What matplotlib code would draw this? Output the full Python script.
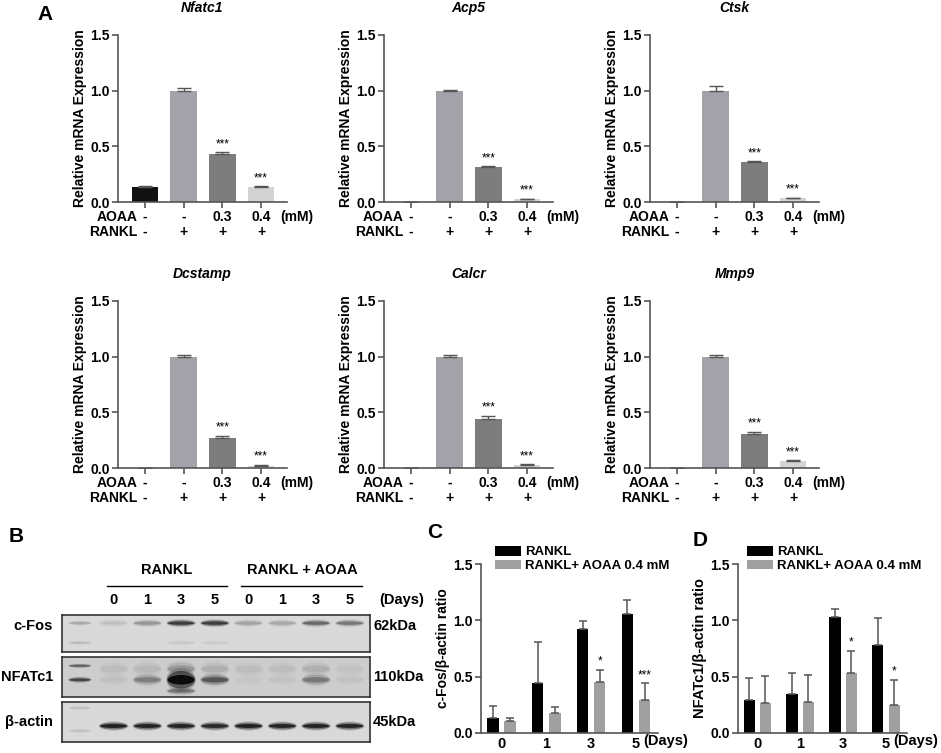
import numpy as np
import matplotlib
matplotlib.use('Agg')
from matplotlib import pyplot as plt
from matplotlib.patches import Ellipse, Patch
import matplotlib.transforms as mtransforms

plt.rcParams['font.family'] = ['Liberation Sans', 'DejaVu Sans']
plt.rcParams['font.weight'] = 'bold'

W, H = 941, 753

# ---- panel A: relative mRNA expression ----
genes = ['Nfatc1', 'Acp5', 'Ctsk', 'Dcstamp', 'Calcr', 'Mmp9']
nfatc1 = [0.134, 1.0, 0.427, 0.134]
nfatc1_err = [0.012, 0.027, 0.018, 0.006]
acp5 = [0.004, 1.0, 0.31, 0.027]
acp5_err = [0.0, 0.008, 0.01, 0.004]
ctsk = [0.004, 1.0, 0.358, 0.033]
ctsk_err = [0.0, 0.045, 0.006, 0.006]
dcstamp = [0.0, 1.0, 0.273, 0.02]
dcstamp_err = [0.0, 0.018, 0.015, 0.007]
calcr = [0.0, 1.0, 0.44, 0.03]
calcr_err = [0.0, 0.018, 0.029, 0.004]
mmp9 = [0.004, 1.0, 0.309, 0.06]
mmp9_err = [0.0, 0.018, 0.017, 0.008]
stars_a = ['', '', '***', '***']
aoaa_labels = ['-', '-', '0.3', '0.4']
rankl_labels = ['-', '+', '+', '+']

# ---- panel B: western blot band strengths (8 lanes after the marker) ----
blot_names = ['c-Fos', 'NFATc1', 'β-actin']
blot_kda = ['62kDa', '110kDa', '45kDa']
lane_days = ['0', '1', '3', '5', '0', '1', '3', '5']
cfos_band = [0.12, 0.35, 1.0, 1.0, 0.28, 0.25, 0.65, 0.55]
nfatc1_band = [0.06, 0.45, 1.6, 0.75, 0.03, 0.05, 0.5, 0.05]
nfatc1_smear = [0.08, 0.1, 0.3, 0.15, 0.08, 0.08, 0.14, 0.05]
actin_band = [1.3, 1.25, 1.25, 1.2, 1.3, 1.25, 1.25, 1.25]

# ---- panels C and D ----
days = ['0', '1', '3', '5']
cfos_rankl = [0.136, 0.44, 0.92, 1.06]
cfos_rankl_err = [0.10, 0.37, 0.07, 0.12]
cfos_aoaa = [0.107, 0.18, 0.45, 0.29]
cfos_aoaa_err = [0.03, 0.05, 0.11, 0.15]
cfos_stars = ['', '', '*', '***']
nfat_rankl = [0.29, 0.345, 1.03, 0.78]
nfat_rankl_err = [0.20, 0.185, 0.07, 0.24]
nfat_aoaa = [0.27, 0.275, 0.535, 0.25]
nfat_aoaa_err = [0.24, 0.24, 0.195, 0.22]
nfat_stars = ['', '', '*', '*']

fig = plt.figure(figsize=(W / 100, H / 100), dpi=100)


def add_ax(left, top, right, bottom):
    return fig.add_axes([left / W, 1 - bottom / H, (right - left) / W, (bottom - top) / H])


def style_axis(ax):
    for s in ['top', 'right']:
        ax.spines[s].set_visible(False)
    for s in ['left', 'bottom']:
        ax.spines[s].set_color('#555555')
        ax.spines[s].set_linewidth(1.2)
    ax.set_ylim(0, 1.5)
    ax.set_yticks([0, 0.5, 1.0, 1.5])
    ax.set_yticklabels(['0.0', '0.5', '1.0', '1.5'])
    ax.tick_params(axis='y', length=4, width=1.2, color='#555555', labelsize=10, pad=2)


bar_colors = ['#111111', '#a2a2a8', '#7d7d7d', '#d3d3d3']
a_vals = [(nfatc1, nfatc1_err), (acp5, acp5_err), (ctsk, ctsk_err),
          (dcstamp, dcstamp_err), (calcr, calcr_err), (mmp9, mmp9_err)]
cols = [118, 384, 650]
rows = [(35, 202), (301, 468)]

for k, gene in enumerate(genes):
    left = cols[k % 3]
    top, bottom = rows[k // 3]
    ax = add_ax(left, top, left + 169, bottom)
    style_axis(ax)
    vals, errs = a_vals[k]
    x = np.arange(4)
    ax.bar(x, vals, width=0.69, color=bar_colors, zorder=2)
    ax.errorbar(x, vals, yerr=[np.zeros(4), errs], fmt='none', ecolor='#555555',
                elinewidth=1, capsize=5, capthick=1, zorder=3)
    for i in range(4):
        if stars_a[i]:
            ax.text(x[i], vals[i] + errs[i] + 0.02, stars_a[i], ha='center', va='bottom',
                    fontsize=8.5, fontweight='normal')
    ax.set_xlim(-0.7, 3.67)
    ax.set_xticks(x)
    ax.set_xticklabels([])
    ax.tick_params(axis='x', length=4, width=1.2, color='#555555')
    ax.set_ylabel('Relative mRNA Expression', fontsize=10, fontweight='bold', labelpad=2)
    ax.text(0.5, 1 + 27 / 167, gene, transform=ax.transAxes, ha='center', va='center',
            fontsize=10, style='italic', fontweight='bold')
    trans = mtransforms.blended_transform_factory(ax.transData, ax.transAxes)
    ax.text(-0.2, -0.09, 'AOAA', transform=trans, ha='right', va='center', fontsize=10)
    ax.text(-0.2, -0.18, 'RANKL', transform=trans, ha='right', va='center', fontsize=10)
    for i in range(4):
        ax.text(i, -0.09, aoaa_labels[i], transform=trans, ha='center', va='center', fontsize=10)
        ax.text(i, -0.18, rankl_labels[i], transform=trans, ha='center', va='center', fontsize=10)
    ax.text(3.5, -0.09, '(mM)', transform=trans, ha='left', va='center', fontsize=10)

# ---- panel B: blot ----
strips = [(615, 652), (657, 697), (702, 742)]
strip_bg = ['#d9d9d9', '#cdcdcd', '#d9d9d9']
lanes = np.arange(1, 9)


def band(ax, x, y, level, w=0.88, h=0.16):
    for sw, sh, a in [(1.0, 1.5, 0.1), (0.95, 1.1, 0.3), (0.9, 0.6, 0.55)]:
        ax.add_patch(Ellipse((x, y), w * sw, h * sh, facecolor='black', edgecolor='none',
                             alpha=min(1.0, level * a)))


blot_axes = []
for j, (top, bottom) in enumerate(strips):
    ax = add_ax(62, top, 370, bottom)
    ax.set_xlim(-0.53, 8.6)
    ax.set_ylim(0, 1)
    ax.set_facecolor(strip_bg[j])
    ax.set_xticks([])
    ax.set_yticks([])
    for s in ax.spines.values():
        s.set_color('#333333')
        s.set_linewidth(1.2)
    ax.text(-0.03, 0.5 if j else 0.7, blot_names[j], transform=ax.transAxes, ha='right',
            va='center', fontsize=10.5)
    ax.text(1.01, 0.5 if j else 0.7, blot_kda[j], transform=ax.transAxes, ha='left',
            va='center', fontsize=10.5)
    blot_axes.append(ax)

ax_f, ax_n, ax_a = blot_axes
for i, x in enumerate(lanes):
    band(ax_f, x, 0.78, cfos_band[i], h=0.15)
    band(ax_n, x, 0.7, nfatc1_smear[i], h=0.3)
    band(ax_n, x, 0.43, nfatc1_band[i], h=0.4 if nfatc1_band[i] > 1 else 0.22)
    band(ax_a, x, 0.4, actin_band[i], h=0.16)
band(ax_n, 3, 0.15, 0.5, h=0.15)
band(ax_f, 3, 0.25, 0.08, h=0.1)
band(ax_f, 4, 0.25, 0.06, h=0.1)
# marker lane
band(ax_f, 0, 0.78, 0.25, w=0.7, h=0.1)
band(ax_f, 0, 0.25, 0.15, w=0.7, h=0.08)
band(ax_n, 0, 0.78, 0.7, w=0.7, h=0.08)
band(ax_n, 0, 0.43, 0.9, w=0.7, h=0.11)
band(ax_a, 0, 0.85, 0.12, w=0.7, h=0.08)
band(ax_a, 0, 0.28, 0.12, w=0.7, h=0.08)

bt = mtransforms.blended_transform_factory(ax_f.transData, fig.transFigure)
for i, x in enumerate(lanes):
    ax_f.text(x, 1 - 600 / H, lane_days[i], transform=bt, ha='center', va='center', fontsize=10.5)
ax_f.text(9.53, 1 - 600 / H, '(Days)', transform=bt, ha='center', va='center', fontsize=10.5)
ax_f.text(2.58, 1 - 570 / H, 'RANKL', transform=bt, ha='center', va='center', fontsize=10.5)
ax_f.text(6.6, 1 - 570 / H, 'RANKL + AOAA', transform=bt, ha='center', va='center', fontsize=10.5)
ax_f.plot([0.8, 4.36], [1 - 586 / H] * 2, transform=bt, clip_on=False, color='black', lw=1)
ax_f.plot([4.78, 8.37], [1 - 586 / H] * 2, transform=bt, clip_on=False, color='black', lw=1)

# ---- panels C and D ----
cd = [(481, 658, cfos_rankl, cfos_rankl_err, cfos_aoaa, cfos_aoaa_err, cfos_stars,
       'c-Fos/β-actin ratio', 10, 495),
      (738, 907, nfat_rankl, nfat_rankl_err, nfat_aoaa, nfat_aoaa_err, nfat_stars,
       'NFATc1/β-actin ratio', 10.5, 747)]
for left, right, r, re, g, ge, st, ylab, yfs, leg_x in cd:
    ax = add_ax(left, 564, right, 733)
    style_axis(ax)
    x = np.arange(4)
    ax.bar(x - 0.19, r, width=0.26, color='black', zorder=2)
    ax.bar(x + 0.19, g, width=0.26, color='#a0a0a0', zorder=2)
    ax.errorbar(x - 0.19, r, yerr=[np.zeros(4), re], fmt='none', ecolor='#555555',
                elinewidth=1.1, capsize=3, capthick=1.1, zorder=3)
    ax.errorbar(x + 0.19, g, yerr=[np.zeros(4), ge], fmt='none', ecolor='#555555',
                elinewidth=1.1, capsize=3, capthick=1.1, zorder=3)
    for i in range(4):
        if st[i]:
            ax.text(x[i] + 0.19, g[i] + ge[i] + 0.02, st[i], ha='center', va='bottom',
                    fontsize=8.5, fontweight='normal')
    ax.set_xlim(-0.45, 3.49)
    ax.set_xticks(x)
    ax.set_xticklabels(days, fontsize=10.5)
    ax.tick_params(axis='x', length=0, pad=3)
    ax.set_ylabel(ylab, fontsize=yfs, fontweight='bold', labelpad=2)
    trans = mtransforms.blended_transform_factory(ax.transData, ax.transAxes)
    ax.text(3.17, -0.045, '(Days)', transform=trans, ha='left', va='center', fontsize=10.5)
    handles = [Patch(facecolor='black', label='RANKL'),
               Patch(facecolor='#a0a0a0', label='RANKL+ AOAA 0.4 mM')]
    ax.legend(handles=handles, loc='upper left', bbox_to_anchor=(leg_x / W, 1 - 546 / H),
              bbox_transform=fig.transFigure, frameon=False, prop={'weight': 'bold', 'size': 9.5},
              handlelength=2.0, handleheight=0.75, handletextpad=0.3, labelspacing=0.1,
              borderpad=0, borderaxespad=0)

# panel letters
for lab, px, py, fs in [('A', 45, 14, 15), ('B', 16, 536, 15), ('C', 435, 533, 15), ('D', 700, 540, 15)]:
    fig.text(px / W, 1 - py / H, lab, ha='center', va='center', fontsize=fs, fontweight='bold')

fig.savefig('out.png', dpi=100)
